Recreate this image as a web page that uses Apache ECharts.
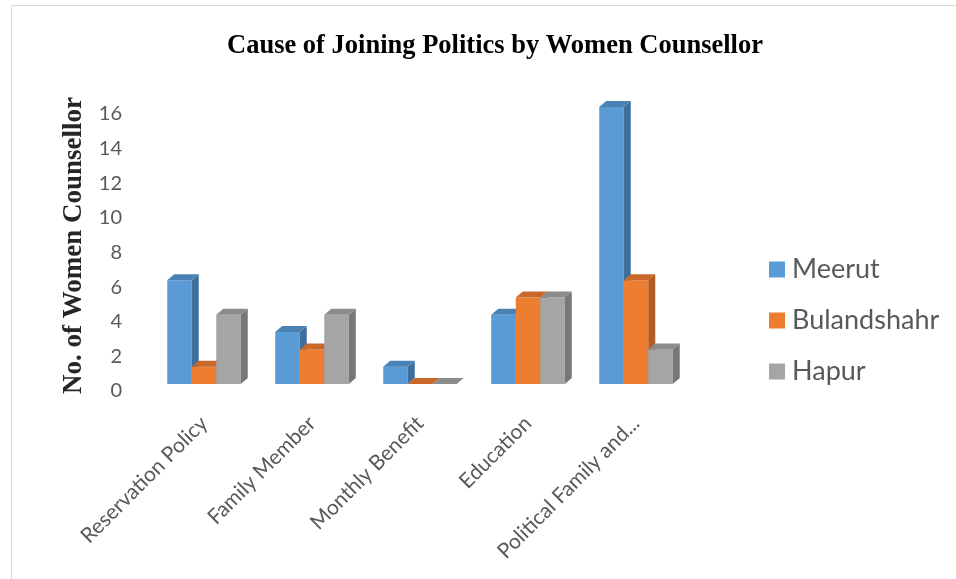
<!DOCTYPE html>
<html><head><meta charset="utf-8">
<script src="https://cdn.jsdelivr.net/npm/echarts@6/dist/echarts.min.js"></script>
<style>html,body{margin:0;padding:0;background:#fff}#c{width:956px;height:579px}</style>
</head><body><div id="c"></div>
<script>
const categories = ['Reservation Policy', 'Family Member', 'Monthly Benefit', 'Education', 'Political Family and...'];
const seriesNames = ['Meerut', 'Bulandshahr', 'Hapur'];
const meerut = [6, 3, 1, 4, 16];
const bulandshahr = [1, 2, 0, 5, 6];
const hapur = [4, 4, 0, 5, 2];
const yMax = 16;
const yStep = 2;

const palette = [
  { front: '#5B9BD5', side: '#3E6F9C', top: '#4A82B6' },
  { front: '#ED7D31', side: '#B25B22', top: '#C9682A' },
  { front: '#A5A5A5', side: '#777777', top: '#8C8C8C' }
];
const DX = 7, DY = -6, BAR_FRAC = 0.227;

function makeRender(idx) {
  return function (params, api) {
    const cat = api.value(0), v = api.value(1);
    const base = api.coord([cat, 0]);
    const top = api.coord([cat, v]);
    const band = api.size([1, 0])[0];
    const w = band * BAR_FRAC;
    const x0 = base[0] - 1.5 * w + idx * w;
    const x1 = x0 + w;
    const yt = top[1], yb = base[1];
    const c = palette[idx];
    const children = [];
    if (yb - yt > 0.5) {
      children.push({ type: 'rect', shape: { x: x0, y: yt, width: w, height: yb - yt }, style: { fill: c.front } });
      children.push({ type: 'polygon', shape: { points: [[x1, yt], [x1 + DX, yt + DY], [x1 + DX, yb + DY], [x1, yb]] }, style: { fill: c.side } });
    }
    children.push({ type: 'polygon', shape: { points: [[x0, yt], [x0 + DX, yt + DY], [x1 + DX, yt + DY], [x1, yt]] }, style: { fill: c.top } });
    return { type: 'group', children: children };
  };
}

const dataSets = [meerut, bulandshahr, hapur];
const series = dataSets.map((arr, i) => ({
  type: 'custom',
  name: seriesNames[i],
  renderItem: makeRender(i),
  encode: { x: 0, y: 1 },
  itemStyle: { color: palette[i].front },
  clip: false,
  data: arr.map((v, j) => [j, v])
}));

const chart = echarts.init(document.getElementById('c'), null, { renderer: 'canvas' });
chart.setOption({
  animation: false,
  backgroundColor: '#ffffff',
  title: {
    text: 'Cause of Joining Politics by Women Counsellor',
    left: 490, top: 28, textAlign: 'center',
    textStyle: { fontFamily: 'Liberation Serif', fontWeight: 'bold', fontSize: 26.5, color: '#000' }
  },
  graphic: [{
    type: 'rect', shape: { x: 11.5, y: 5.5, width: 1000, height: 1000 },
    style: { fill: 'none', stroke: '#D9D9D9', lineWidth: 1 }, silent: true, z: -1
  }],
  legend: {
    orient: 'vertical', left: 764, top: 251,
    itemWidth: 16, itemHeight: 16, itemGap: 24, icon: 'rect',
    textStyle: { fontFamily: 'Lato', fontSize: 27, color: '#595959', padding: [0, 0, 0, 2] },
    data: seriesNames
  },
  grid: { left: 150, right: 266, top: 107, bottom: 195 },
  xAxis: {
    type: 'category', data: categories,
    axisLine: { show: false }, axisTick: { show: false },
    axisLabel: { rotate: 45, margin: 36, interval: 0, fontFamily: 'Lato', fontSize: 21, color: '#595959' }
  },
  yAxis: {
    type: 'value', min: 0, max: yMax, interval: yStep,
    name: 'No. of Women Counsellor', nameLocation: 'middle', nameRotate: 90, nameGap: 61,
    nameTextStyle: { fontFamily: 'Liberation Serif', fontWeight: 'bold', fontSize: 27, color: '#262626' },
    axisLine: { show: false }, axisTick: { show: false }, splitLine: { show: false },
    axisLabel: { margin: 28, fontFamily: 'Lato', fontSize: 20, color: '#595959', verticalAlign: 'top', lineHeight: 14 }
  },
  series: series
});
</script>
</body></html>
